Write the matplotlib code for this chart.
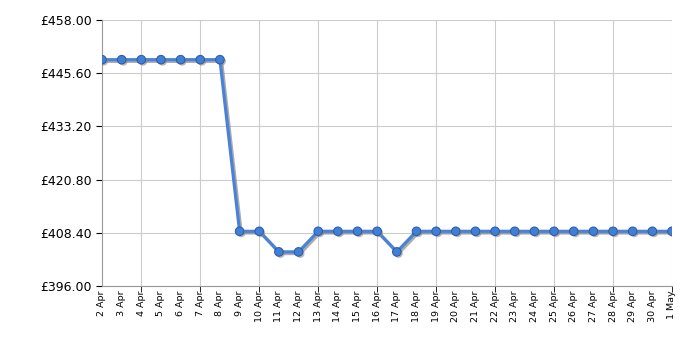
import numpy as np
import matplotlib
matplotlib.use("Agg")
import matplotlib.pyplot as plt
import matplotlib.patheffects as pe

days = [f"{d} Apr" for d in range(2, 31)] + ["1 May"]
prices = [448.75] * 7 + [408.75] * 2 + [403.95] * 2 + [408.75] * 4 + [403.95] + [408.75] * 14
yticks = [396.00, 408.40, 420.80, 433.20, 445.60, 458.00]

fig = plt.figure(figsize=(7, 3.5), dpi=100)
ax = fig.add_axes([102 / 700, 64 / 350, 570 / 700, 266 / 350])

x = np.arange(len(days))
ax.plot(x, prices, color="#4a82d8", lw=2.3, zorder=3,
        path_effects=[pe.SimpleLineShadow(offset=(1.2, -1.2), shadow_color="#888888", alpha=0.7), pe.Normal()])
ax.plot(x, prices, ls="none", marker="o", ms=6.2, mfc="#3f7fd9", mec="#2a5a9c", mew=0.7, zorder=4,
        path_effects=[pe.SimplePatchShadow(offset=(1.2, -1.2), shadow_rgbFace="#888888", alpha=0.6), pe.Normal()])

ax.set_xlim(0, len(days) - 1)
ax.set_ylim(396, 458)
ax.set_yticks(yticks)
ax.set_yticklabels([f"£{v:.2f}" for v in yticks], fontsize=9)
ax.set_xticks(x)
ax.set_xticklabels(days, rotation=90, fontsize=6.8)
ax.tick_params(axis="x", length=0, pad=3)
ax.xaxis.remove_overlapping_locs = False
ax.set_xticks(list(range(2, len(days), 3)), minor=True)
ax.tick_params(axis="x", which="minor", length=4, color="black")
ax.tick_params(axis="y", length=4, color="black")

ax.grid(True, axis="y", color="#cccccc", lw=0.8)
ax.grid(True, axis="x", which="minor", color="#cccccc", lw=0.8)
ax.set_axisbelow(True)
for s in ["top", "right"]:
    ax.spines[s].set_visible(False)
for s in ["left", "bottom"]:
    ax.spines[s].set_color("#999999")

fig.savefig("out.png", dpi=100)
